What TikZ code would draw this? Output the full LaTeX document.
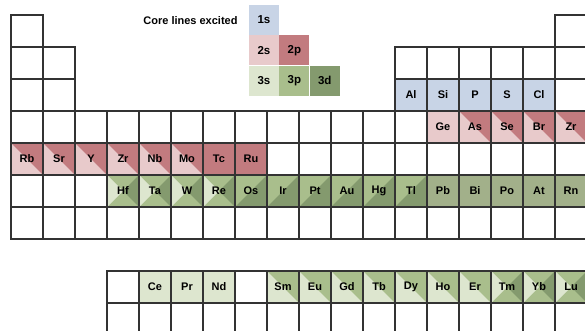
\documentclass[tikz,border=0pt]{standalone}
\usepackage{fontspec}
\usepackage{xcolor}
\usetikzlibrary{positioning}
\newfontfamily\arialfont{Liberation Sans}
\definecolor{gridgray}{HTML}{333333}
\definecolor{c1s}{HTML}{C8D4E6}
\definecolor{c2s}{HTML}{E8CACB}
\definecolor{c2p}{HTML}{C27B7F}
\definecolor{c3s}{HTML}{DDE6CF}
\definecolor{c3p}{HTML}{A9BE8C}
\definecolor{c3d}{HTML}{849A6E}
\definecolor{cpb}{HTML}{A2B08A}
\tikzset{gridline/.style={draw=gridgray, line width=1.2pt}}
\tikzset{elem/.style={minimum size=32pt, inner sep=0pt, font=\arialfont\bfseries\fontsize{11}{13}\selectfont}}
\tikzset{legcell/.style={minimum size=30pt, inner sep=0pt, font=\arialfont\bfseries\fontsize{11.5}{13}\selectfont}}
\tikzset{halfup/.style 2 args={fill=#1, path picture={\fill[#2] (path picture bounding box.north west) -- (path picture bounding box.north east) -- (path picture bounding box.south east) -- cycle;}}}
\tikzset{halfdown/.style 2 args={fill=#1, path picture={\fill[#2] (path picture bounding box.south west) -- (path picture bounding box.south east) -- (path picture bounding box.north east) -- cycle;}}}
\tikzset{quarters/.style={fill=c3p, path picture={
    \fill[c3s] (path picture bounding box.north west) -- (path picture bounding box.center) -- (path picture bounding box.south west) -- cycle;
    \fill[c3d] (path picture bounding box.north east) -- (path picture bounding box.center) -- (path picture bounding box.south east) -- cycle;}}}
\begin{document}
\begin{tikzpicture}[x=32pt, y=-32pt, shift={(11pt,-15pt)}]
    \useasboundingbox (-0.34375,-0.46875) rectangle (17.9375,9.875);
    % legend
    \node[anchor=east, font=\arialfont\bfseries\fontsize{11}{13}\selectfont] (title) at (7.19,0.17) {Core lines excited};
    \node[legcell, fill=c1s] (leg1s) at (7.906,0.156) {1s};
    \node[legcell, fill=c2s, below=0pt of leg1s] (leg2s) {2s};
    \node[legcell, fill=c2p, right=0pt of leg2s] (leg2p) {2p};
    \node[legcell, fill=c3s, below=0pt of leg2s] (leg3s) {3s};
    \node[legcell, fill=c3p, right=0pt of leg3s] (leg3p) {3p};
    \node[legcell, fill=c3d, right=0pt of leg3p] (leg3d) {3d};
    % coloured cells
    \foreach \c/\s in {13/Al,14/Si,15/P,16/S,17/Cl}
        \node[elem, fill=c1s] (\s) at (\c-0.5,2.5) {\s};
    \node[elem, fill=c2s] (Ge) at (13.5,3.5) {Ge};
    \foreach \c/\s in {15/As,16/Se,17/Br}
        \node[elem, halfup={c2s}{c2p}] (\s) at (\c-0.5,3.5) {\s};
    \node[elem, halfup={c2s}{c2p}] (Kr) at (17.5,3.5) {Zr};
    \foreach \c/\s in {1/Rb,2/Sr,3/Y,4/Zr,5/Nb,6/Mo}
        \node[elem, halfup={c2s}{c2p}] (\s) at (\c-0.5,4.5) {\s};
    \foreach \c/\s in {7/Tc,8/Ru}
        \node[elem, fill=c2p] (\s) at (\c-0.5,4.5) {\s};
    \foreach \c/\s in {4/Hf,5/Ta,6/W,7/Re}
        \node[elem, quarters] (\s) at (\c-0.5,5.5) {\s};
    \foreach \c/\s in {8/Os,9/Ir,10/Pt,11/Au,12/Hg,13/Tl}
        \node[elem, halfdown={c3p}{c3d}] (\s) at (\c-0.5,5.5) {\s};
    \foreach \c/\s in {14/Pb,15/Bi,16/Po,17/At,18/Rn}
        \node[elem, fill=cpb] (\s) at (\c-0.5,5.5) {\s};
    \foreach \c/\s in {5/Ce,6/Pr,7/Nd}
        \node[elem, fill=c3s] (\s) at (\c-0.5,8.5) {\s};
    \foreach \c/\s in {9/Sm,10/Eu,11/Gd,12/Tb,13/Dy,14/Ho,15/Er}
        \node[elem, halfup={c3s}{c3p}] (\s) at (\c-0.5,8.5) {\s};
    \foreach \c/\s in {16/Tm,17/Yb,18/Lu}
        \node[elem, quarters] (\s) at (\c-0.5,8.5) {\s};
    % grid
    \foreach \c in {1,18}
        \draw[gridline] (\c-1,0) rectangle ++(1,1);
    \foreach \r in {2,3}
        \foreach \c in {1,2,13,14,15,16,17,18}
            \draw[gridline] (\c-1,\r-1) rectangle ++(1,1);
    \foreach \r in {4,...,7}
        \foreach \c in {1,...,18}
            \draw[gridline] (\c-1,\r-1) rectangle ++(1,1);
    \foreach \r in {9,10}
        \foreach \c in {4,...,18}
            \draw[gridline] (\c-1,\r-1) rectangle ++(1,1);
\end{tikzpicture}
\end{document}
